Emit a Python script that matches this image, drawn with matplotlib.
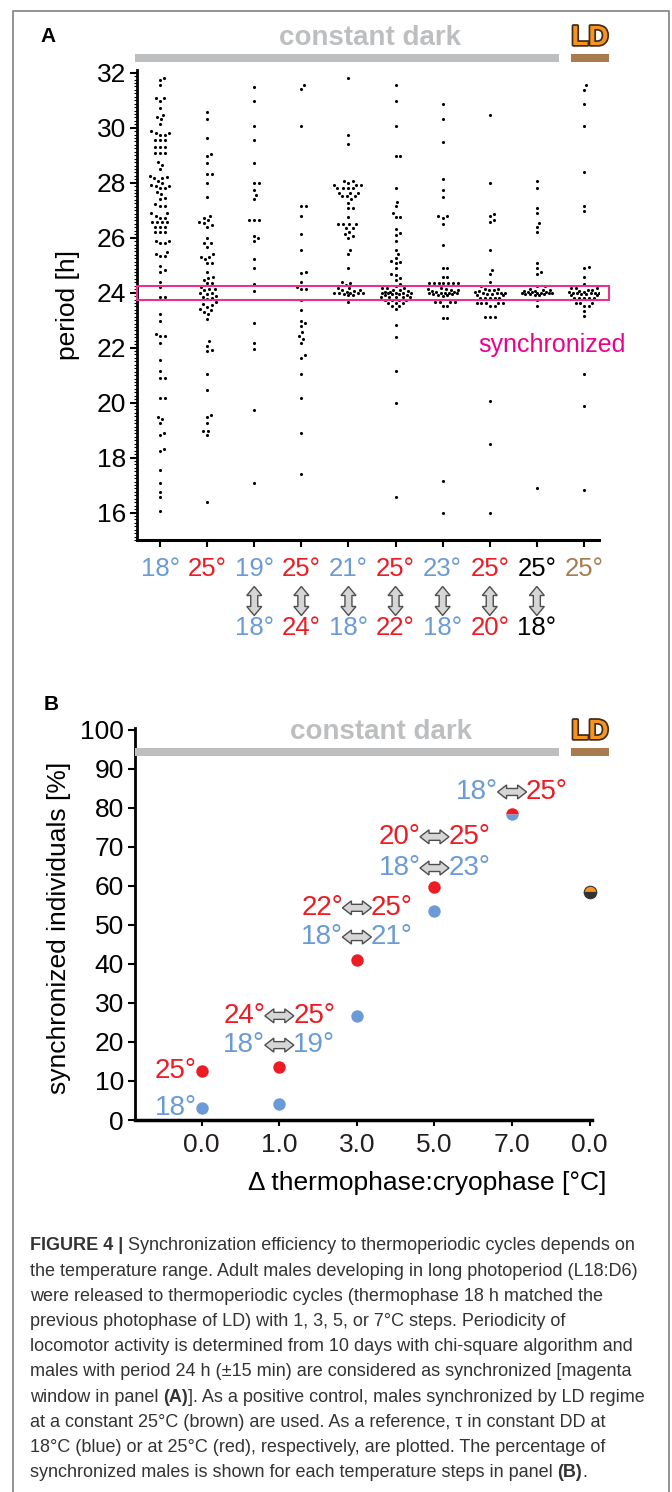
"""
Figure 4 re-drawn: (A) free-running periods per temperature regime,
(B) share of synchronized individuals per thermophase:cryophase step.
"""

import numpy as np
import matplotlib

matplotlib.use("Agg")
import matplotlib.pyplot as plt
import matplotlib.patheffects as pe
from matplotlib.patches import Polygon, Rectangle
from matplotlib.transforms import blended_transform_factory

plt.rcParams["font.family"] = ["Liberation Sans", "DejaVu Sans"]

BLUE = "#6b9bd6"
RED = "#ed1c24"
BROWN = "#a97c50"
ORANGE = "#f7941d"
MAGENTA = "#ec008c"
BAR_GRAY = "#bcbec0"
ARROW_FILL = "#d6d6d6"
ARROW_EDGE = "#4d4d4d"

# --- Panel A: period [h] of each individual, per regime --------------------
period_dd18 = [31.82, 31.73, 31.55, 31.07, 31.07, 30.97, 30.73, 30.48, 30.4, 30.32,
               30.15, 29.88, 29.8, 29.8, 29.74, 29.74, 29.55, 29.55, 29.55, 29.31,
               29.31, 29.31, 29.07, 29.07, 29.07, 28.74, 28.64, 28.48, 28.24, 28.22,
               28.16, 28.16, 28.07, 27.98, 27.92, 27.89, 27.89, 27.82, 27.82, 27.65,
               27.58, 27.45, 27.41, 27.21, 27.16, 27.16, 26.88, 26.88, 26.8, 26.73,
               26.73, 26.56, 26.56, 26.56, 26.56, 26.4, 26.4, 26.4, 26.22, 26.22,
               26.22, 25.89, 25.89, 25.81, 25.81, 25.47, 25.39, 25.32, 25.32, 24.98,
               24.82, 24.76, 24.4, 24.22, 23.85, 23.85, 23.22, 22.97, 22.5, 22.41,
               22.41, 22.15, 21.56, 21.15, 20.9, 20.9, 20.15, 20.15, 19.48, 19.4,
               19.24, 18.9, 18.82, 18.3, 18.23, 17.56, 17.07, 16.74, 16.56, 16.07]
period_dd25 = [30.56, 30.3, 29.64, 29.05, 28.96, 28.72, 28.32, 28.32, 27.99, 27.47,
               26.8, 26.73, 26.64, 26.56, 26.53, 26.46, 26.4, 25.98, 25.8, 25.79,
               25.67, 25.39, 25.31, 25.28, 25.22, 25.07, 25.07, 24.74, 24.58, 24.55,
               24.46, 24.34, 24.34, 24.22, 24.15, 24.12, 24.1, 24.0, 23.98, 23.96,
               23.88, 23.85, 23.8, 23.78, 23.65, 23.58, 23.55, 23.48, 23.4, 23.35,
               23.3, 23.22, 23.05, 22.23, 22.07, 21.9, 21.88, 21.05, 20.47, 19.56,
               19.48, 19.24, 18.98, 18.98, 18.81, 16.39]
period_19_18 = [31.49, 30.97, 30.06, 29.55, 28.73, 27.98, 27.98, 27.73, 27.55, 27.39,
                26.64, 26.64, 26.64, 26.07, 25.98, 25.89, 25.22, 24.88, 24.32, 24.06,
                22.9, 22.15, 21.96, 19.72, 17.07]
period_25_24 = [31.55, 31.4, 30.06, 27.15, 27.15, 26.8, 26.13, 25.55, 24.74, 24.7,
                24.4, 24.22, 24.13, 24.13, 23.72, 23.38, 22.98, 22.9, 22.8, 22.56,
                22.41, 22.31, 22.15, 21.72, 21.62, 21.05, 20.15, 18.9, 17.39]
period_21_18 = [31.82, 29.73, 29.39, 28.07, 28.07, 28.0, 27.93, 27.93, 27.93, 27.8,
                27.8, 27.8, 27.8, 27.64, 27.64, 27.64, 27.5, 27.5, 27.5, 27.4,
                27.25, 27.07, 27.07, 26.74, 26.5, 26.48, 26.48, 26.48, 26.34, 26.34,
                26.22, 26.13, 26.07, 26.0, 25.55, 25.39, 24.88, 24.4, 24.34, 24.28,
                24.16, 24.16, 24.1, 24.08, 24.05, 24.02, 24.0, 24.0, 23.99, 23.98,
                23.97, 23.95, 23.93, 23.9, 23.65]
period_25_22 = [31.55, 30.97, 30.06, 28.97, 28.97, 27.82, 27.31, 27.15, 26.88, 26.74,
                26.74, 26.32, 26.16, 26.1, 25.89, 25.55, 25.39, 25.25, 25.15, 25.13,
                25.07, 24.88, 24.67, 24.64, 24.55, 24.46, 24.32, 24.25, 24.16, 24.16,
                24.16, 24.1, 24.08, 24.05, 24.03, 24.02, 24.0, 24.0, 23.99, 23.98,
                23.97, 23.96, 23.95, 23.93, 23.9, 23.85, 23.85, 23.85, 23.85, 23.85,
                23.75, 23.75, 23.75, 23.75, 23.62, 23.62, 23.62, 23.5, 23.5, 23.4,
                22.81, 22.39, 21.14, 19.98, 16.56]
period_23_18 = [30.88, 30.3, 29.47, 28.13, 27.73, 27.49, 26.8, 26.8, 26.73, 26.48,
                25.73, 24.88, 24.88, 24.58, 24.58, 24.34, 24.34, 24.34, 24.34, 24.34,
                24.34, 24.34, 24.18, 24.15, 24.12, 24.1, 24.08, 24.06, 24.04, 24.02,
                24.0, 24.0, 23.99, 23.98, 23.97, 23.96, 23.95, 23.93, 23.9, 23.87,
                23.65, 23.65, 23.65, 23.65, 23.5, 23.5, 23.08, 23.08, 17.14, 15.99]
period_25_20 = [30.46, 27.98, 26.85, 26.8, 26.64, 26.56, 25.55, 24.82, 24.67, 24.4,
                24.23, 24.15, 24.12, 24.1, 24.08, 24.05, 24.03, 24.0, 24.0, 23.99,
                23.98, 23.96, 23.95, 23.93, 23.9, 23.8, 23.8, 23.8, 23.8, 23.8,
                23.62, 23.62, 23.62, 23.62, 23.62, 23.5, 23.5, 23.1, 23.1, 23.1,
                20.07, 18.48, 15.99]
period_25_18 = [28.07, 27.82, 27.07, 26.88, 26.55, 26.4, 26.22, 25.07, 24.88, 24.74,
                24.67, 24.25, 24.25, 24.12, 24.1, 24.08, 24.06, 24.05, 24.04, 24.02,
                24.01, 24.0, 24.0, 23.99, 23.98, 23.97, 23.96, 23.95, 23.94, 23.92,
                23.9, 23.75, 23.5, 16.88]
period_ld25 = [31.55, 31.39, 30.88, 30.06, 28.4, 27.15, 26.97, 24.92, 24.88, 24.56,
               24.33, 24.17, 24.17, 24.17, 24.1, 24.08, 24.05, 24.03, 24.02, 24.0,
               24.0, 23.99, 23.98, 23.97, 23.96, 23.95, 23.93, 23.9, 23.8, 23.8,
               23.8, 23.8, 23.8, 23.62, 23.62, 23.62, 23.5, 23.5, 23.32, 23.14,
               21.05, 19.89, 16.81]
groups_A = [period_dd18, period_dd25, period_19_18, period_25_24, period_21_18,
            period_25_22, period_23_18, period_25_20, period_25_18, period_ld25]

thermo_labels = ["18°", "25°", "19°", "25°", "21°", "25°", "23°", "25°", "25°", "25°"]
thermo_colors = [BLUE, RED, BLUE, RED, BLUE, RED, BLUE, RED, "black", BROWN]
cryo_labels = ["", "", "18°", "24°", "18°", "22°", "18°", "20°", "18°", ""]
cryo_colors = [BLUE, RED, BLUE, RED, BLUE, RED, BLUE, RED, "black", BROWN]

# --- Panel B: synchronized individuals [%] ---------------------------------
step_labels = ["0.0", "1.0", "3.0", "5.0", "7.0", "0.0"]
sync_25 = [12.6, 13.7, 40.9, 59.7]     # red: warm-side reference / cycles
sync_18 = [3.0, 4.0, 26.6, 53.7]       # blue: cold-side reference / cycles
sync_7deg = 78.5                        # 18°<->25° (red/blue)
sync_ld = 58.5                          # LD control
pair_labels = [  # (step index, y, left, left colour, right, right colour)
    (1, 26.7, "24°", RED, "25°", RED),
    (1, 19.2, "18°", BLUE, "19°", BLUE),
    (2, 54.4, "22°", RED, "25°", RED),
    (2, 46.9, "18°", BLUE, "21°", BLUE),
    (3, 72.6, "20°", RED, "25°", RED),
    (3, 64.6, "18°", BLUE, "23°", BLUE),
    (4, 84.1, "18°", BLUE, "25°", RED),
]

caption_lines = [
    [("FIGURE 4 |", True), ("Synchronization efficiency to thermoperiodic cycles depends on", False)],
    [("the temperature range. Adult males developing in long photoperiod (L18:D6)", False)],
    [("were released to thermoperiodic cycles (thermophase 18 h matched the", False)],
    [("previous photophase of LD) with 1, 3, 5, or 7°C steps. Periodicity of", False)],
    [("locomotor activity is determined from 10 days with chi-square algorithm and", False)],
    [("males with period 24 h (±15 min) are considered as synchronized [magenta", False)],
    [("window in panel", False), ("(A)", True), ("]. As a positive control, males synchronized by LD regime", False)],
    [("at a constant 25°C (brown) are used. As a reference, τ in constant DD at", False)],
    [("18°C (blue) or at 25°C (red), respectively, are plotted. The percentage of", False)],
    [("synchronized males is shown for each temperature steps in panel", False), ("(B)", True), (".", False)],
]

W, H = 672, 1492
fig = plt.figure(figsize=(W / 100, H / 100), dpi=100)


def frac(x0, y0, x1, y1):
    return [x0 / W, 1 - y1 / H, (x1 - x0) / W, (y1 - y0) / H]


def swarm(vals, sx, sy, d=4.8, max_px=15.0):
    """Beeswarm x-offsets (data units) so dots of diameter ~d px do not overlap."""
    vals = np.asarray(vals, float)
    offs = np.zeros(len(vals))
    placed = []
    for i in np.argsort(vals, kind="stable"):
        y = vals[i] * sy
        near = [(py, px) for py, px in placed if abs(py - y) < d]
        cands = [0.0]
        for py, px in near:
            dx = np.sqrt(d ** 2 - (py - y) ** 2)
            cands += [px + dx, px - dx]
        chosen = None
        for c in sorted(cands, key=abs):
            if abs(c) > max_px:
                continue
            if all((c - px) ** 2 + (y - py) ** 2 >= d ** 2 - 1e-6 for py, px in near):
                chosen = c
                break
        if chosen is None:
            grid = np.linspace(-max_px, max_px, 61)
            score = [min((g - px) ** 2 + (y - py) ** 2 for py, px in near) for g in grid]
            chosen = grid[int(np.argmax(score))]
        placed.append((y, chosen))
        offs[i] = chosen / sx
    return offs


axA = fig.add_axes(frac(137, 70, 599, 540))
axB = fig.add_axes(frac(135, 728, 592, 1120))
ov = fig.add_axes([0, 0, 1, 1])
ov.set_xlim(0, W)
ov.set_ylim(H, 0)
ov.axis("off")


def to_ov(ax, x, y):
    return ov.transData.inverted().transform(ax.transData.transform((x, y)))


def double_arrow(cx, cy, length, width, shaft, head, vertical=False):
    L, w = length / 2, width / 2
    pts = [(-L, 0), (-L + head, -w), (-L + head, -shaft / 2), (L - head, -shaft / 2),
           (L - head, -w), (L, 0), (L - head, w), (L - head, shaft / 2),
           (-L + head, shaft / 2), (-L + head, w)]
    if vertical:
        pts = [(b, a) for a, b in pts]
    ov.add_patch(Polygon([(cx + a, cy + b) for a, b in pts], closed=True,
                         facecolor=ARROW_FILL, edgecolor=ARROW_EDGE, lw=1, zorder=5))


# --- Panel A ---------------------------------------------------------------
axA.set_xlim(-0.49, 9.32)
axA.set_ylim(15.0, 32.1)
axA.patch.set_alpha(0)
sxA = 462 / (9.32 + 0.49)
syA = 470 / (32.1 - 15.0)
for i, vals in enumerate(groups_A):
    axA.scatter(i + swarm(vals, sxA, syA), vals, s=5, color="black", lw=0, zorder=3)

for side in ("top", "right"):
    axA.spines[side].set_visible(False)
axA.spines["left"].set_linewidth(2)
axA.spines["bottom"].set_linewidth(2.2)
axA.set_yticks(range(16, 33, 2))
axA.set_yticks(np.arange(15, 32.1, 0.125), minor=True)
axA.tick_params(axis="y", which="major", length=5, width=1.5, labelsize=19, pad=3)
axA.tick_params(axis="y", which="minor", length=2, width=0.8)
axA.set_xticks(range(len(groups_A)))
axA.set_xticklabels([])
axA.tick_params(axis="x", length=5, width=1.5)

# synchronized window (24 h +/- 15 min)
bt = blended_transform_factory(ov.transData, axA.transData)
ov.add_patch(Rectangle((137, 23.75), 472, 0.5, transform=bt, fill=False,
                       edgecolor="#e8308c", lw=1.5, zorder=6))
ov.text(552, 345, "synchronized", color=MAGENTA, fontsize=18, ha="center", va="center")
ov.text(68, 305, "period [h]", fontsize=19, rotation=90, ha="center", va="center")

for i in range(len(groups_A)):
    cx = to_ov(axA, i, 24)[0]
    ov.text(cx, 569, thermo_labels[i], color=thermo_colors[i], fontsize=18.5,
            ha="center", va="center")
    if cryo_labels[i]:
        double_arrow(cx, 601, 29, 15, 7, 9, vertical=True)
        ov.text(cx, 628, cryo_labels[i], color=cryo_colors[i], fontsize=18.5,
                ha="center", va="center")

# --- Panel B ---------------------------------------------------------------
axB.set_xlim(-0.86, 5.03)
axB.set_ylim(0, 100.5)
axB.patch.set_alpha(0)
xs = np.arange(len(sync_25))
axB.scatter(xs, sync_25, s=80, color=RED, lw=0, zorder=3, clip_on=False)
axB.scatter(xs, sync_18, s=80, color=BLUE, lw=0, zorder=3, clip_on=False)
axB.plot([4], [sync_7deg], "o", ms=9, fillstyle="top", markerfacecolor=RED,
         markerfacecoloralt=BLUE, markeredgewidth=0, zorder=3, clip_on=False)
axB.plot([5], [sync_ld], "o", ms=9, fillstyle="top", markerfacecolor=ORANGE,
         markerfacecoloralt="#333333", markeredgecolor="#333333",
         markeredgewidth=0.8, zorder=3, clip_on=False)

for side in ("top", "right"):
    axB.spines[side].set_visible(False)
axB.spines["left"].set_linewidth(2)
axB.spines["bottom"].set_linewidth(2.5)
axB.set_yticks(range(0, 101, 10))
axB.set_xticks(range(len(step_labels)))
axB.set_xticklabels(step_labels)
axB.tick_params(axis="y", length=5, width=1.5, labelsize=19, pad=3)
axB.tick_params(axis="x", length=4, width=1.5, labelsize=19, pad=5, labelcolor="#231f20")

ov.text(59, 928, "synchronized individuals [%]", fontsize=19, rotation=90,
        ha="center", va="center")
ov.text(606, 1183, "Δ thermophase:cryophase [°C]", fontsize=19, ha="right", va="center")

for x, y, txt, col in [(0, sync_25[0], "25°", RED), (0, sync_18[0], "18°", BLUE)]:
    px, py = to_ov(axB, x, y)
    ov.text(px - 5, py, txt, color=col, fontsize=20, ha="right", va="center")

for x, y, lt, lc, rt, rc in pair_labels:
    px, py = to_ov(axB, x, y)
    double_arrow(px, py, 29, 14, 7, 9)
    ov.text(px - 14, py, lt, color=lc, fontsize=20, ha="right", va="center")
    ov.text(px + 14, py, rt, color=rc, fontsize=20, ha="left", va="center")

# --- regime headers ----------------------------------------------------------
for ybar, ytxt, xtxt in [(58, 38, 370), (752, 732, 381)]:
    ov.add_patch(Rectangle((135, ybar - 4), 424, 8, color=BAR_GRAY, lw=0))
    ov.add_patch(Rectangle((571, ybar - 4), 38, 8, color=BROWN, lw=0))
    ov.text(xtxt, ytxt, "constant dark", color=BAR_GRAY, fontsize=20,
            fontweight="bold", ha="center", va="center")
    ov.text(590, ytxt, "LD", color=ORANGE, fontsize=20, fontweight="bold",
            ha="center", va="center",
            path_effects=[pe.withStroke(linewidth=2.5, foreground="#3d2b1f")])

ov.text(48, 37, "A", fontsize=15, fontweight="bold", ha="center", va="center")
ov.text(51, 705, "B", fontsize=15, fontweight="bold", ha="center", va="center")

# --- frame and caption ---------------------------------------------------------
ov.plot([13, 13, 669, 669], [H, 11, 11, H], color="#808080", lw=1.2)

renderer = fig.canvas.get_renderer()
for k, runs in enumerate(caption_lines):
    x = 30
    y = 1246 + k * 25.2
    for j, (txt, bold) in enumerate(runs):
        if j > 0 and not txt.startswith(("]", ".")):
            x += 4.8
        t = ov.text(x, y, txt, fontsize=13, color="#333333", ha="left", va="center",
                    fontweight="bold" if bold else "normal")
        bb = t.get_window_extent(renderer=renderer)
        x = ov.transData.inverted().transform((bb.x1, bb.y0))[0]

fig.savefig("out.png", dpi=100)
